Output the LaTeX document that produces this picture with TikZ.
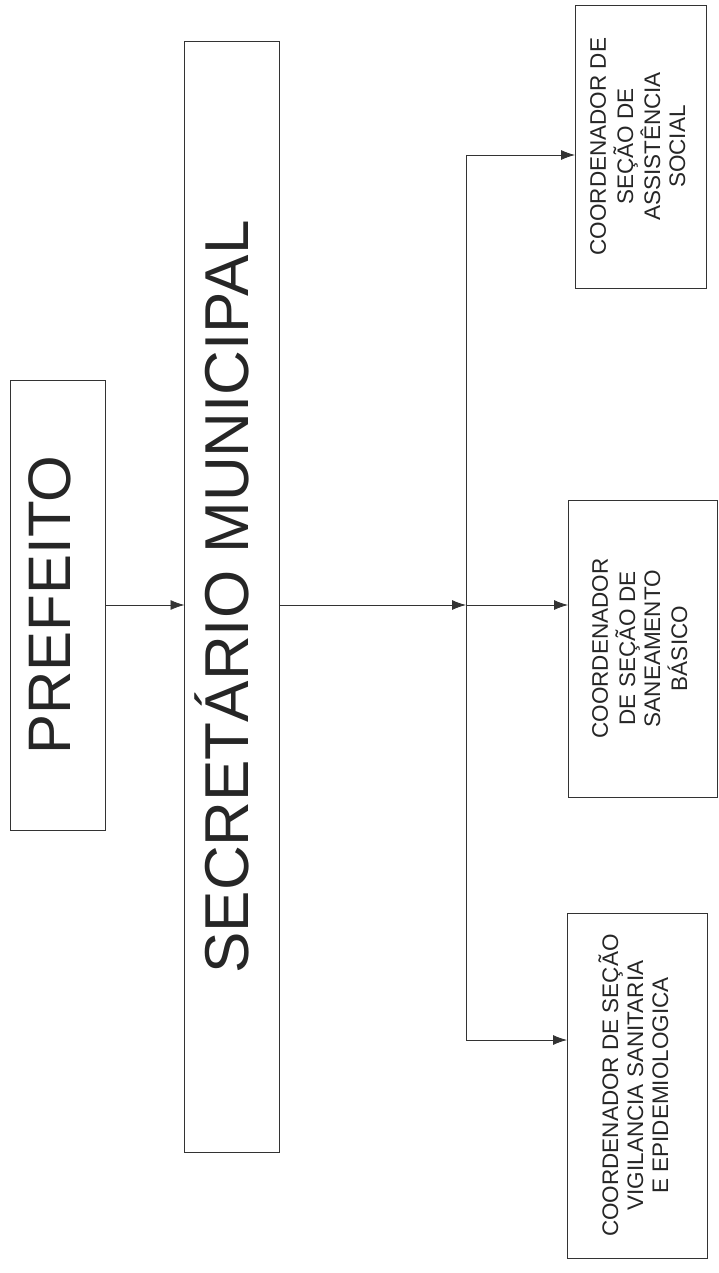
\documentclass[tikz,border=0pt]{standalone}
\usepackage{fontspec}
\setmainfont{Liberation Sans}
\usepackage{graphicx}
\usepackage{tikz}
\usetikzlibrary{arrows,arrows.meta,positioning}
\newcommand{\giro}[1]{\rotatebox{90}{\begin{tabular}{@{}c@{}}#1\end{tabular}}}
\tikzstyle{cargo} = [rectangle, draw=black!80, line width=0.9pt, inner sep=0pt, outer sep=0pt, text=black!85]
\tikzstyle{chefe} = [cargo, font=\fontsize{60}{66}\selectfont]
\tikzstyle{coord} = [cargo, font=\fontsize{22.5}{25}\selectfont]
\tikzstyle{arrow} = [line width=0.8pt,-{Latex[length=14pt,width=10pt]},color=black!80]
\tikzstyle{bus} = [line width=0.8pt,color=black!80]

\begin{document}
\begin{tikzpicture}[x=1pt,y=-1pt]
\useasboundingbox (0,0) rectangle (719,1273);
% Top of the chart
\node (prefeito) [chefe, minimum width=95pt, minimum height=450pt] at (57.5,605) {\giro{PREFEITO}};
\node (secretario) [chefe, font=\fontsize{62}{68}\selectfont, minimum width=95pt, minimum height=1111pt] at (232,597) {\giro{SECRETÁRIO MUNICIPAL}};

% Coordinators
\node (assist) [coord, minimum width=131pt, minimum height=283pt] at (640.5,146.5) {\giro{COORDENADOR DE\\SEÇÃO DE\\ASSISTÊNCIA\\SOCIAL}};
\node (saneam) [coord, minimum width=149pt, minimum height=297pt] at (642.5,648.5) {\giro{COORDENADOR\\DE SEÇÃO DE\\SANEAMENTO\\BÁSICO}};
\node (vigil) [coord, minimum width=140pt, minimum height=345pt] at (637,1085.5) {\giro{COORDENADOR DE SEÇÃO\\VIGILANCIA SANITARIA\\E EPIDEMIOLOGICA}};

% Junctions on the bus
\coordinate (jtop) at (466,155);
\coordinate (jmid) at (466,605);
\coordinate (jbot) at (466,1040);

% Arrows
\draw[arrow] (prefeito.east) -- (prefeito.east -| secretario.west);
\draw[arrow] (prefeito.east -| secretario.east) -- (jmid);
\draw[bus] (jtop) -- (jbot);
\draw[arrow] (jtop) -- (jtop -| assist.west);
\draw[arrow] (jmid) -- (jmid -| saneam.west);
\draw[arrow] (jbot) -- (jbot -| vigil.west);
\end{tikzpicture}
\end{document}
